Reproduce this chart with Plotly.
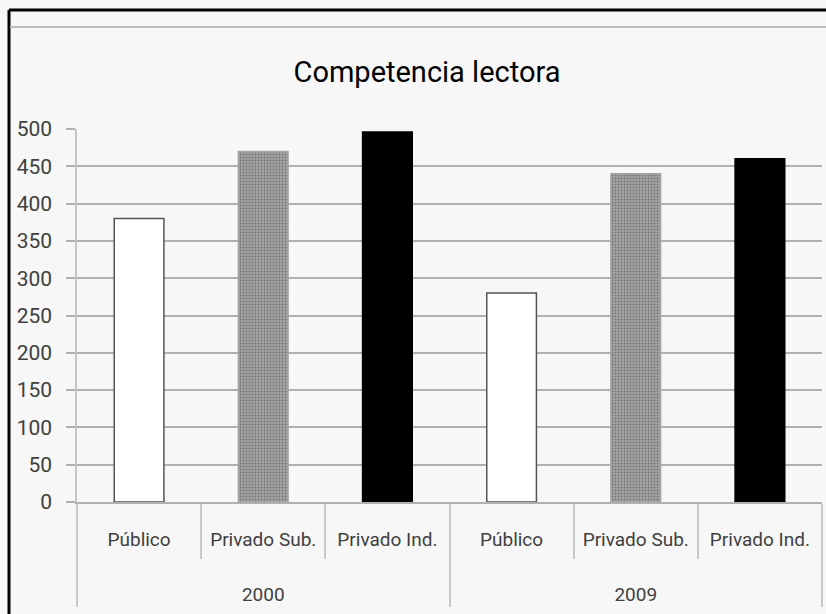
import plotly.graph_objects as go

# datos
years = ["2000", "2000", "2000", "2009", "2009", "2009"]
sectors = ["Público", "Privado Sub.", "Privado Ind.", "Público", "Privado Sub.", "Privado Ind."]
scores = [380, 470, 496, 280, 440, 460]

fill_colors = ["#ffffff", "#a4a4a4", "#000000", "#ffffff", "#a4a4a4", "#000000"]
line_colors = ["#555555", "#a4a4a4", "#000000", "#555555", "#a4a4a4", "#000000"]
patterns = ["", ".", "", "", ".", ""]

FONT = "Liberation Sans Narrow, Roboto, Liberation Sans, sans-serif"

# lineas en blanco para bajar la fila de los años
sector_labels = [s + "<br>\u00a0<br>\u00a0" for s in sectors]

fig = go.Figure()
fig.add_trace(go.Bar(
    x=[years, sector_labels],
    y=scores,
    marker=dict(color=fill_colors, line=dict(color=line_colors, width=1.5),
                pattern=dict(shape=patterns, fillmode="overlay", fgcolor="#959595",
                             size=3, solidity=0.3)),
    width=0.4,
    showlegend=False,
))

# marco de la imagen original (borde negro y doble linea gris)
L, R, T, B = 77, 4, 129, 112
W, H = 826, 614
pw, ph = W - L - R, H - T - B


def px(x):
    return (x - L) / pw


def py(y):
    return (H - B - y) / ph


fig.add_shape(type="line", xref="paper", yref="paper", x0=px(9), x1=px(9), y0=py(10), y1=py(620),
              line=dict(color="black", width=3))
fig.add_shape(type="line", xref="paper", yref="paper", x0=px(9), x1=px(830), y0=py(10), y1=py(10),
              line=dict(color="black", width=3))
fig.add_shape(type="line", xref="paper", yref="paper", x0=px(10), x1=px(830), y0=py(27), y1=py(27),
              line=dict(color="#bcbcbc", width=2))

fig.update_layout(
    width=W, height=H,
    margin=dict(l=L, r=R, t=T, b=B, autoexpand=False),
    paper_bgcolor="#f7f7f7",
    plot_bgcolor="#f7f7f7",
    font=dict(family=FONT, size=19, color="#404040"),
    title=dict(text="Competencia lectora", x=px(427), xref="paper", xanchor="center",
               y=1 - 72 / H, yref="container", yanchor="middle",
               font=dict(family=FONT, size=29, color="#000000")),
    bargap=0.6,
)
fig.update_yaxes(
    range=[0, 500], dtick=50, tickmode="linear",
    showgrid=True, gridcolor="#b0b0b0", gridwidth=2,
    ticks="outside", ticklen=9, tickcolor="#b0b0b0", tickwidth=2,
    showline=True, linecolor="#c4c4c4", linewidth=1.5,
    zeroline=False, ticklabelstandoff=10, tickfont=dict(size=21),
)
fig.update_xaxes(
    type="multicategory",
    showline=True, linecolor="#b0b0b0", linewidth=2,
    ticks="outside", tickson="boundaries", ticklen=55, tickcolor="#c8c8c8", tickwidth=1.5,
    showdividers=True, dividercolor="#c8c8c8", dividerwidth=1.5,
    ticklabelstandoff=19,
)

fig.write_html("out.html", config={"displayModeBar": False},
               post_script="document.body.style.margin='0';")
